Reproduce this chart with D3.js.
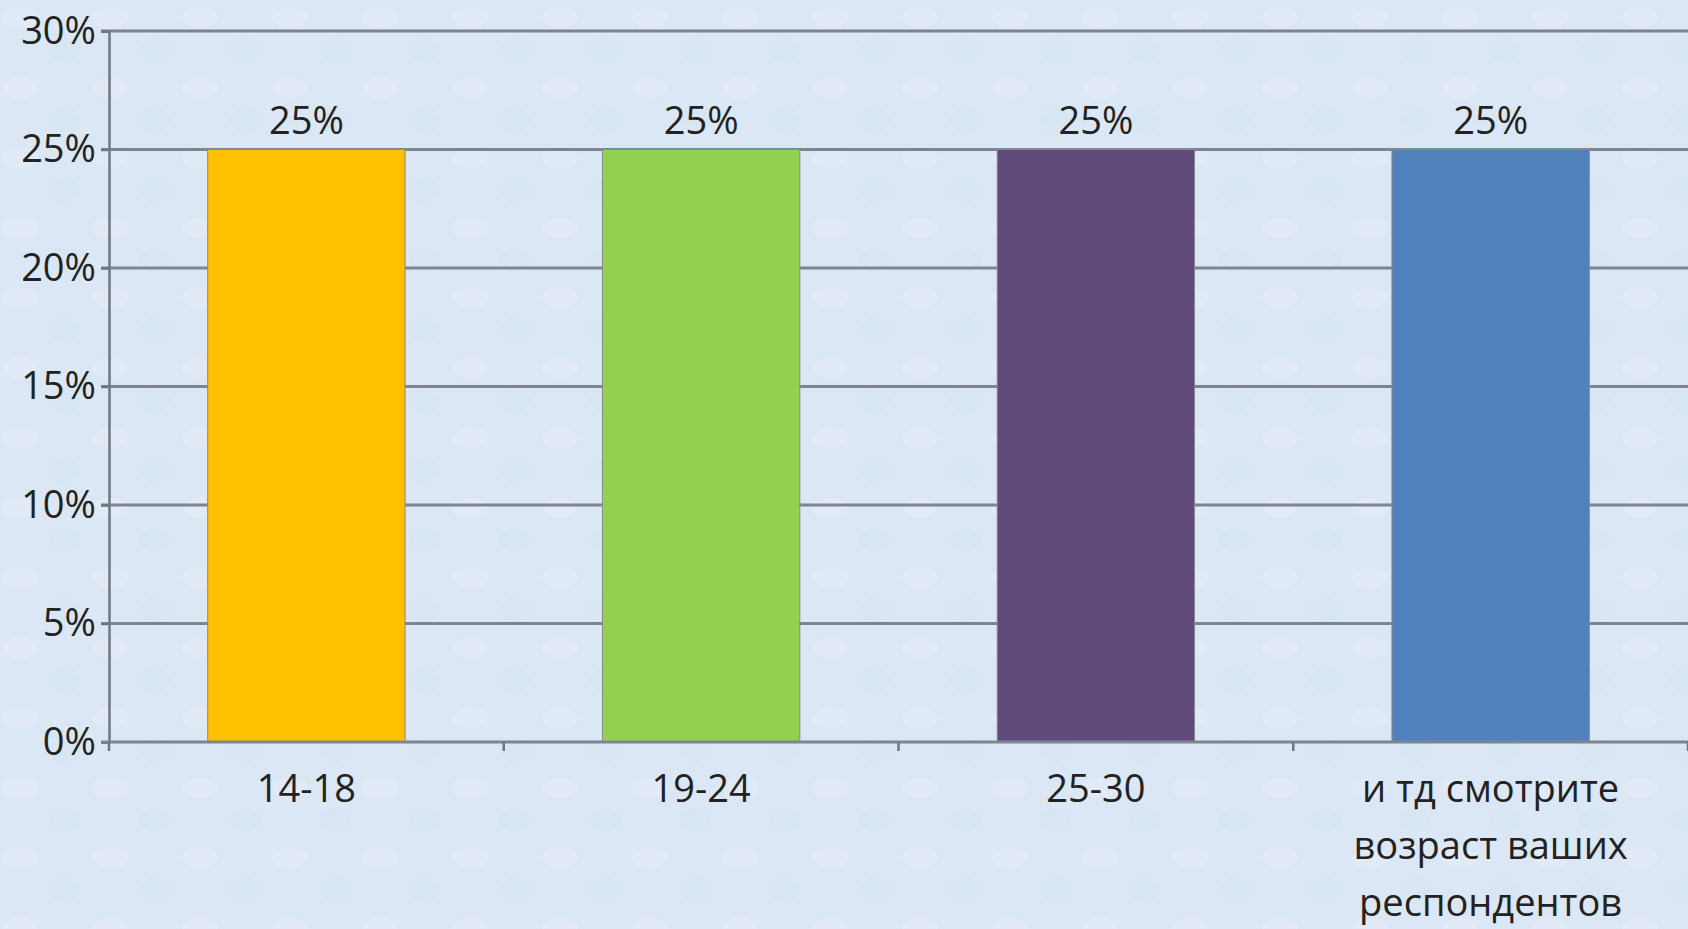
<!DOCTYPE html>
<html>
<head>
<meta charset="utf-8">
<script src="https://cdn.jsdelivr.net/npm/d3@7"></script>
<style>
	html, body { margin: 0; padding: 0; overflow: hidden; }
	body { background: #dce8f5; }
	svg { display: block; font-family: "Open Sans", sans-serif; }
</style>
</head>
<body>
<div id="chart"></div>
<script>
const width = 1688;
const height = 929;

// data
const categories = ["14-18", "19-24", "25-30", "и тд смотрите возраст ваших респондентов"];
const categoryLines = [["14-18"], ["19-24"], ["25-30"], ["и тд смотрите", "возраст ваших", "респондентов"]];
const values = [0.25, 0.25, 0.25, 0.25];
const barColors = ["#ffc000", "#92d050", "#604a7b", "#4f81bd"];
const yTicks = [0, 0.05, 0.1, 0.15, 0.2, 0.25, 0.3];

const margin = { top: 31, right: 0, bottom: 187, left: 109 };

const svg = d3
	.select("#chart")
	.append("svg")
	.attr("width", width)
	.attr("height", height);

// light paper-like background
const defs = svg.append("defs");
const pat = defs
	.append("pattern")
	.attr("id", "paper")
	.attr("width", 90)
	.attr("height", 70)
	.attr("patternUnits", "userSpaceOnUse");
pat.append("rect").attr("width", 90).attr("height", 70).attr("fill", "#dbe7f4");
pat.append("ellipse").attr("cx", 20).attr("cy", 18).attr("rx", 18).attr("ry", 10).attr("fill", "#e4edf7").attr("opacity", 0.6);
pat.append("ellipse").attr("cx", 65).attr("cy", 50).attr("rx", 16).attr("ry", 12).attr("fill", "#d5e3f2").attr("opacity", 0.5);
svg.append("rect").attr("width", width).attr("height", height).attr("fill", "url(#paper)");

const x = d3
	.scaleBand()
	.domain(categories)
	.range([margin.left, width - margin.right])
	.paddingInner(0.5)
	.paddingOuter(0.25);

const y = d3
	.scaleLinear()
	.domain([0, 0.3])
	.range([height - margin.bottom, margin.top]);

// gridlines
svg
	.append("g")
	.selectAll("line")
	.data(yTicks.filter(d => d > 0))
	.join("line")
	.attr("x1", margin.left - 8)
	.attr("x2", width)
	.attr("y1", d => y(d))
	.attr("y2", d => y(d))
	.attr("stroke", "#7d8590")
	.attr("stroke-width", 3);

// y axis
const yAxis = svg
	.append("g")
	.attr("transform", `translate(${margin.left},0)`)
	.call(d3.axisLeft(y).tickValues(yTicks).tickFormat(d3.format(".0%")).tickSize(8).tickPadding(5));
yAxis.attr("font-family", null).attr("font-size", null);
yAxis.select(".domain").attr("stroke", "#6f7780").attr("stroke-width", 2.5);
yAxis.selectAll(".tick line").attr("stroke", "#6f7780").attr("stroke-width", 2.5);
yAxis
	.selectAll(".tick text")
	.attr("fill", "#222")
	.style("font-size", "38px");

// bars
svg
	.append("g")
	.selectAll("rect")
	.data(values)
	.join("rect")
	.attr("x", (d, i) => x(categories[i]))
	.attr("width", x.bandwidth())
	.attr("y", d => y(d))
	.attr("height", d => y(0) - y(d))
	.attr("fill", (d, i) => barColors[i])
	.attr("stroke", "#8a8a8a")
	.attr("stroke-width", 1);

// x axis line + ticks between categories
const step = x.step();
const bounds = d3.range(categories.length + 1).map(i => margin.left + i * step);
svg
	.append("line")
	.attr("x1", margin.left - 8)
	.attr("x2", width)
	.attr("y1", y(0))
	.attr("y2", y(0))
	.attr("stroke", "#7d8590")
	.attr("stroke-width", 3);
svg
	.append("g")
	.selectAll("line")
	.data(bounds)
	.join("line")
	.attr("x1", d => d)
	.attr("x2", d => d)
	.attr("y1", y(0))
	.attr("y2", y(0) + 9)
	.attr("stroke", "#6f7780")
	.attr("stroke-width", 2.5);

// value labels
svg
	.append("g")
	.selectAll("text")
	.data(values)
	.join("text")
	.attr("x", (d, i) => x(categories[i]) + x.bandwidth() / 2)
	.attr("y", d => y(d) - 16)
	.attr("text-anchor", "middle")
	.attr("fill", "#222")
	.style("font-size", "38px")
	.text(d3.format(".0%"));

// category labels
const catG = svg
	.append("g")
	.selectAll("text")
	.data(categoryLines)
	.join("text")
	.attr("x", (d, i) => x(categories[i]) + x.bandwidth() / 2)
	.attr("y", y(0) + 60)
	.attr("text-anchor", "middle")
	.attr("fill", "#222")
	.style("font-size", "38px");
catG
	.selectAll("tspan")
	.data(d => d)
	.join("tspan")
	.attr("x", function () {
		return this.parentNode.getAttribute("x");
	})
	.attr("dy", (d, i) => (i === 0 ? 0 : 57))
	.text(d => d);
</script>
</body>
</html>
